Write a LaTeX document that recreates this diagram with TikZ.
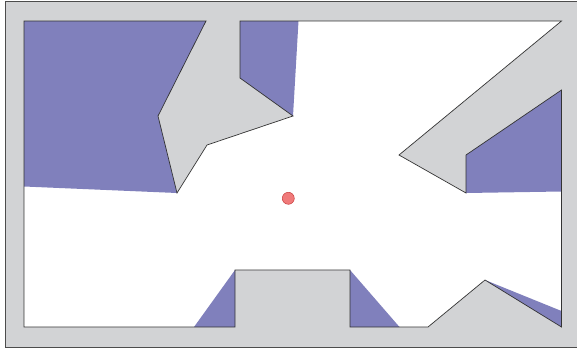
\documentclass[tikz,border=0pt]{standalone}
\definecolor{wallgray}{RGB}{210,211,213}
\definecolor{shadowblue}{RGB}{128,128,188}
\definecolor{dotred}{RGB}{240,122,122}
\definecolor{dotedge}{RGB}{200,60,60}
\tikzset{
  outerframe/.style={fill=wallgray,draw=black!70,line width=0.9pt},
  freespace/.style={fill=white},
  wallline/.style={draw=black!80,line width=0.7pt,line join=miter},
  shadow/.style={fill=shadowblue},
  lightsrc/.style={circle,fill=dotred,draw=dotedge,line width=0.5pt,minimum size=12pt,inner sep=0pt}
}
\begin{document}
\begin{tikzpicture}[x=1pt,y=-1pt]
\useasboundingbox (0,0) rectangle (577,351);
\begin{scope}
\clip (0,0) rectangle (577,351);
\path[outerframe] (5,1.5) rectangle (579,347);
\end{scope}
\def\room{(24,21) -- (206,21) -- (158,116) -- (177,193) -- (207,145) -- (293,116) -- (240,78) -- (240,21) -- (561.5,21) -- (399,155) -- (466,193) -- (466,155) -- (561.5,90) -- (561.5,327) -- (485,280) -- (428,327) -- (350,327) -- (350,270) -- (235,270) -- (235,327) -- (24,327) -- cycle}
\path[freespace] \room;
\path[shadow] (24,21) -- (206,21) -- (158,116) -- (177,193) -- (24,186.5) -- cycle;
\path[shadow] (240,21) -- (298.5,21) -- (293,116) -- (240,78) -- cycle;
\path[shadow] (466,155) -- (561.5,90) -- (561.5,191.5) -- (466,193) -- cycle;
\path[shadow] (194,327) -- (235,270) -- (235,327) -- cycle;
\path[shadow] (350,270) -- (399.5,327) -- (350,327) -- cycle;
\path[shadow] (485,280) -- (561.5,311) -- (561.5,327) -- cycle;
\path[wallline] \room;
\node[lightsrc] (light) at (288.3,198.3) {};
\end{tikzpicture}
\end{document}
